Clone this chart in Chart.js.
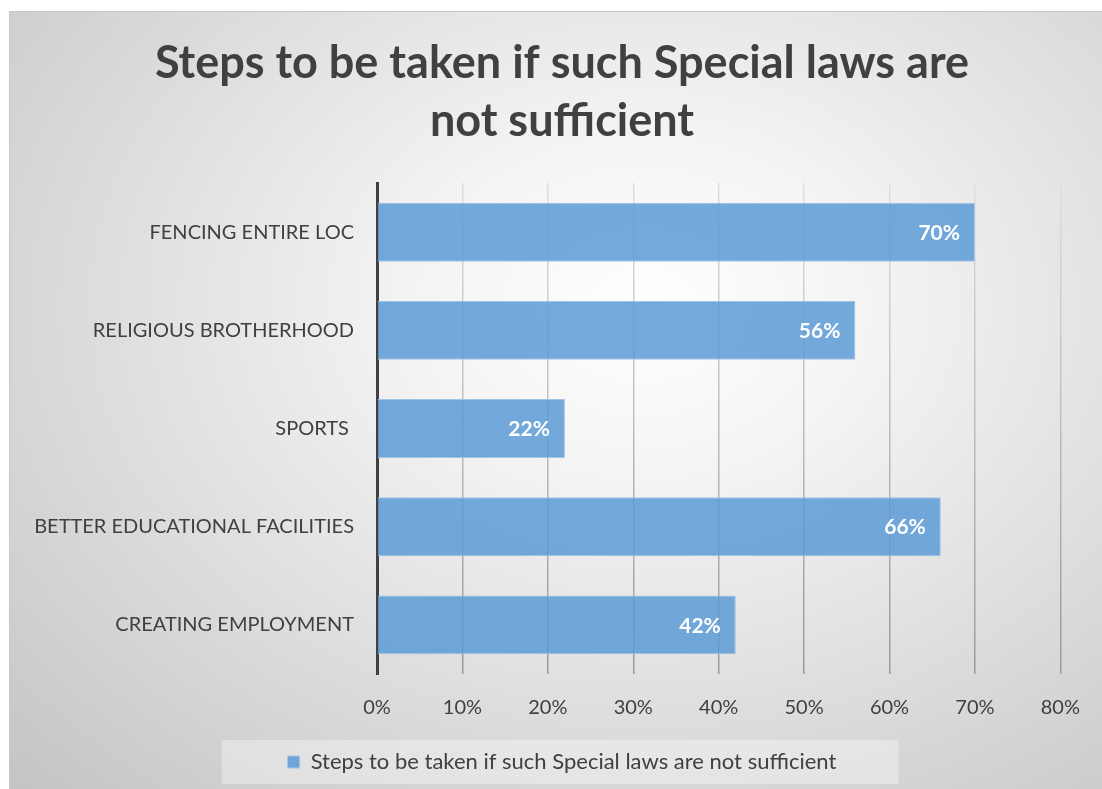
<!DOCTYPE html>
<html>
<head>
<meta charset="utf-8">
<script src="https://cdn.jsdelivr.net/npm/chart.js@4.4.1/dist/chart.umd.min.js"></script>
<style>
  html, body { margin: 0; padding: 0; background: #ffffff; }
  #frame {
    position: absolute;
    left: 9px;
    top: 11px;
    width: 1093px;
    height: 778px;
    border-top: 1px solid #c8c8c8;
    border-left: 1px solid #c8c8c8;
    box-sizing: border-box;
    background: radial-gradient(ellipse farthest-corner at 58% 38%, #ffffff 0%, #f4f4f4 25%, #c4c4c4 100%);
  }
  #chart { display: block; }
</style>
</head>
<body>
<div id="frame"><canvas id="chart" width="1092" height="777"></canvas></div>
<script>
// categories, top to bottom
const categories = [
  'FENCING ENTIRE LOC',
  'RELIGIOUS BROTHERHOOD',
  'SPORTS ',
  'BETTER EDUCATIONAL FACILITIES',
  'CREATING EMPLOYMENT',
];
// share of respondents, percent
const values = [70, 56, 22, 66, 42];
const series_name = 'Steps to be taken if such Special laws are not sufficient';
const title_lines = ['Steps to be taken if such Special laws are', 'not sufficient'];

const FONT = 'Lato, "Open Sans", sans-serif';
const TEXT = '#404040';

// percentage label inside the end of each bar
const bar_labels = {
  id: 'bar_labels',
  afterDatasetsDraw(chart) {
    const ctx = chart.ctx;
    const meta = chart.getDatasetMeta(0);
    ctx.save();
    ctx.font = `bold 21px ${FONT}`;
    ctx.fillStyle = '#ffffff';
    ctx.textAlign = 'right';
    ctx.textBaseline = 'middle';
    meta.data.forEach((bar, i) => {
      ctx.fillText(values[i] + '%', bar.x - 15, bar.y + 1);
    });
    ctx.restore();
  },
};

// title and legend sit centred on the whole frame, not on the padded layout area
const center_blocks = {
  id: 'center_blocks',
  afterLayout(chart) {
    const shift = 25;
    [chart.titleBlock, chart.legend].forEach((box) => {
      if (!box) return;
      box.left += shift;
      box.right += shift;
    });
  },
};

// pale box behind the legend
const legend_box = {
  id: 'legend_box',
  beforeDraw(chart) {
    const boxes = chart.legend && chart.legend.legendHitBoxes;
    if (!boxes || !boxes.length) return;
    const hb = boxes[0];
    const ctx = chart.ctx;
    ctx.save();
    ctx.fillStyle = 'rgba(255, 255, 255, 0.35)';
    ctx.fillRect(hb.left - 66, hb.top + hb.height / 2 - 22, hb.width + 128, 44);
    ctx.restore();
  },
};

const ctx = document.getElementById('chart').getContext('2d');

// grid lines darken towards the bottom
let grid_gradient = null;
function grid_color(context) {
  const area = context.chart.chartArea;
  if (!area) return '#cccccc';
  if (!grid_gradient) {
    grid_gradient = ctx.createLinearGradient(0, area.top, 0, area.bottom);
    grid_gradient.addColorStop(0, '#dedede');
    grid_gradient.addColorStop(1, '#9a9a9a');
  }
  return grid_gradient;
}

new Chart(ctx, {
  type: 'bar',
  data: {
    labels: categories,
    datasets: [{
      label: series_name,
      data: values,
      backgroundColor: 'rgba(91, 155, 213, 0.85)',
      borderColor: 'rgba(160, 196, 232, 1)',
      borderWidth: 1,
      barPercentage: 0.6,
      categoryPercentage: 1.0,
    }],
  },
  options: {
    indexAxis: 'y',
    responsive: false,
    animation: false,
    layout: {
      padding: { left: 0, right: 38, top: 0, bottom: 6 },
    },
    scales: {
      x: {
        min: 0,
        max: 80,
        ticks: {
          stepSize: 10,
          padding: 22,
          color: TEXT,
          font: { family: FONT, size: 20 },
          callback: (v) => v + '%',
        },
        grid: {
          color: grid_color,
          lineWidth: 1.5,
          drawTicks: false,
        },
        border: { display: false },
        afterFit: (scale) => { scale.height = 67; },
      },
      y: {
        ticks: {
          padding: 23,
          color: TEXT,
          font: { family: FONT, size: 20 },
        },
        grid: { display: false, drawTicks: false },
        border: { display: true, color: '#404040', width: 3 },
        afterFit: (scale) => { scale.width = 367; },
      },
    },
    plugins: {
      title: {
        display: true,
        text: title_lines,
        color: TEXT,
        font: { family: FONT, size: 45, weight: 'bold', lineHeight: 1.29 },
        padding: { top: 22, bottom: 33 },
      },
      legend: {
        display: true,
        position: 'bottom',
        labels: {
          color: TEXT,
          font: { family: FONT, size: 22 },
          boxWidth: 12,
          boxHeight: 12,
          padding: 10,
        },
      },
      tooltip: { enabled: false },
    },
  },
  plugins: [bar_labels, center_blocks, legend_box],
});
</script>
</body>
</html>
